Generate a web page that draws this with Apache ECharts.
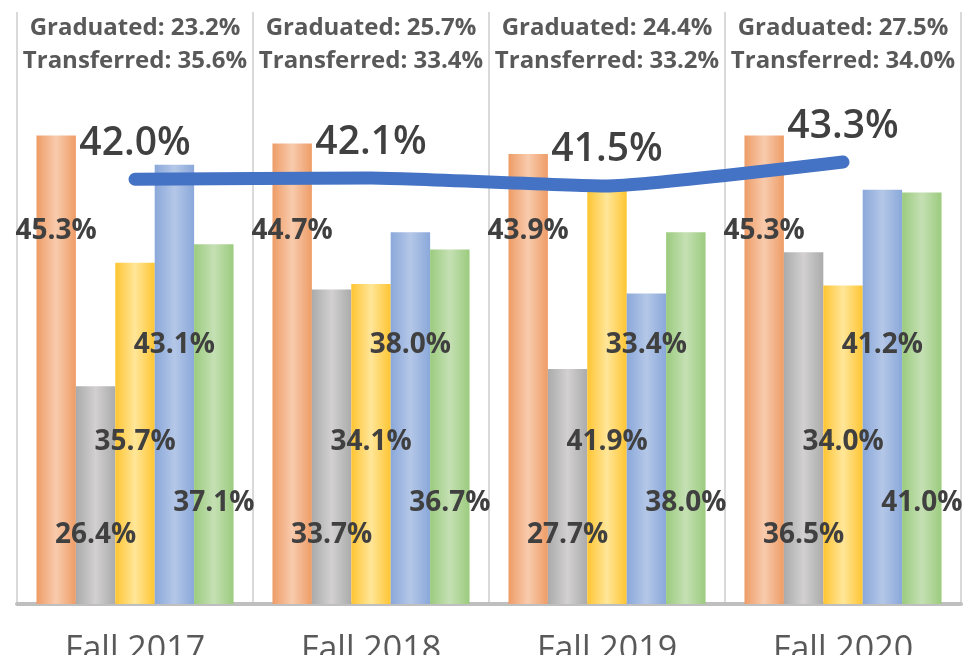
<!DOCTYPE html>
<html>
<head>
<meta charset="utf-8">
<script src="https://cdn.jsdelivr.net/npm/echarts@6/dist/echarts.min.js"></script>
<style>
  html, body { margin: 0; padding: 0; background: #fff; }
  #chart { width: 963px; height: 655px; }
</style>
</head>
<body>
<div id="chart"></div>
<script>
// categories + values
var terms = ["Fall 2017", "Fall 2018", "Fall 2019", "Fall 2020"];
var graduated = [23.2, 25.7, 24.4, 27.5];
var transferred = [35.6, 33.4, 33.2, 34.0];

var series1 = [45.3, 44.7, 43.9, 45.3];
var series2 = [26.4, 33.7, 27.7, 36.5];
var series3 = [35.7, 34.1, 41.9, 34.0];
var series4 = [43.1, 38.0, 33.4, 41.2];
var series5 = [37.1, 36.7, 38.0, 41.0];
var overall = [42.0, 42.1, 41.5, 43.3];

var FONT = "'Open Sans', 'Noto Sans', sans-serif";

function grad(edge, mid) {
  return new echarts.graphic.LinearGradient(0, 0, 1, 0, [
    { offset: 0, color: edge },
    { offset: 0.5, color: mid },
    { offset: 1, color: edge }
  ]);
}

// each bar series: name, data, colours, label row (px)
function barSeries(name, data, edge, mid, labelY) {
  return {
    name: name,
    type: "bar",
    data: data,
    barGap: "0%",
    barCategoryGap: "16.5%",
    itemStyle: { color: grad(edge, mid) },
    label: {
      show: true,
      position: "inside",
      align: "center",
      verticalAlign: "middle",
      formatter: function (p) { return p.value.toFixed(1) + "%"; },
      fontFamily: FONT,
      fontWeight: "bold",
      fontSize: 28,
      color: "#404040"
    },
    labelLayout: function (params) {
      var r = params.rect;
      return { x: r.x + r.width / 2, y: labelY, align: "center", verticalAlign: "middle" };
    },
    z: 2
  };
}

var chart = echarts.init(document.getElementById("chart"));

var option = {
  animation: false,
  grid: { left: 17, right: 2, top: 12, bottom: 51, outerBoundsMode: "none", containLabel: false },
  xAxis: [
    {
      type: "category",
      data: terms,
      axisLine: { lineStyle: { color: "#BFBFBF", width: 4 } },
      axisTick: { show: false },
      splitLine: { show: true, lineStyle: { color: "#D9D9D9", width: 2 } },
      axisLabel: {
        margin: 29,
        fontFamily: FONT,
        fontSize: 34,
        color: "#595959"
      }
    },
    {
      type: "category",
      data: terms,
      position: "top",
      axisLine: { show: false },
      axisTick: { show: false },
      splitLine: { show: false },
      axisLabel: {
        inside: true,
        margin: 0,
        formatter: function (v, i) {
          return "{t|Graduated: " + graduated[i].toFixed(1) + "%}\n{t|Transferred: " +
            transferred[i].toFixed(1) + "%}";
        },
        rich: {
          t: {
            fontFamily: FONT,
            fontWeight: "bold",
            fontSize: 24,
            lineHeight: 33,
            color: "#595959"
          }
        }
      }
    }
  ],
  yAxis: {
    type: "value",
    min: 10,
    max: 54.6,
    show: false,
    splitLine: { show: false }
  },
  series: [
    barSeries("Series 1", series1, "#EE9C66", "#F8CBAD", 231),
    barSeries("Series 2", series2, "#ABABAB", "#D2D0D0", 535),
    barSeries("Series 3", series3, "#FFC532", "#FFE699", 442),
    barSeries("Series 4", series4, "#8AA8DA", "#B4C7E7", 345),
    barSeries("Series 5", series5, "#9BCB7E", "#C5E0B4", 503),
    {
      name: "Overall",
      type: "line",
      data: overall,
      smooth: 0.15,
      symbol: "circle",
      symbolSize: 4,
      showSymbol: true,
      itemStyle: { color: "#4472C4" },
      lineStyle: { color: "#4472C4", width: 13, cap: "round", join: "round" },
      label: {
        show: true,
        position: "top",
        distance: 14,
        formatter: function (p) { return p.value.toFixed(1) + "%"; },
        fontFamily: FONT,
        fontWeight: 600,
        fontSize: 39,
        color: "#404040"
      },
      z: 5
    }
  ]
};

chart.setOption(option);
</script>
</body>
</html>
